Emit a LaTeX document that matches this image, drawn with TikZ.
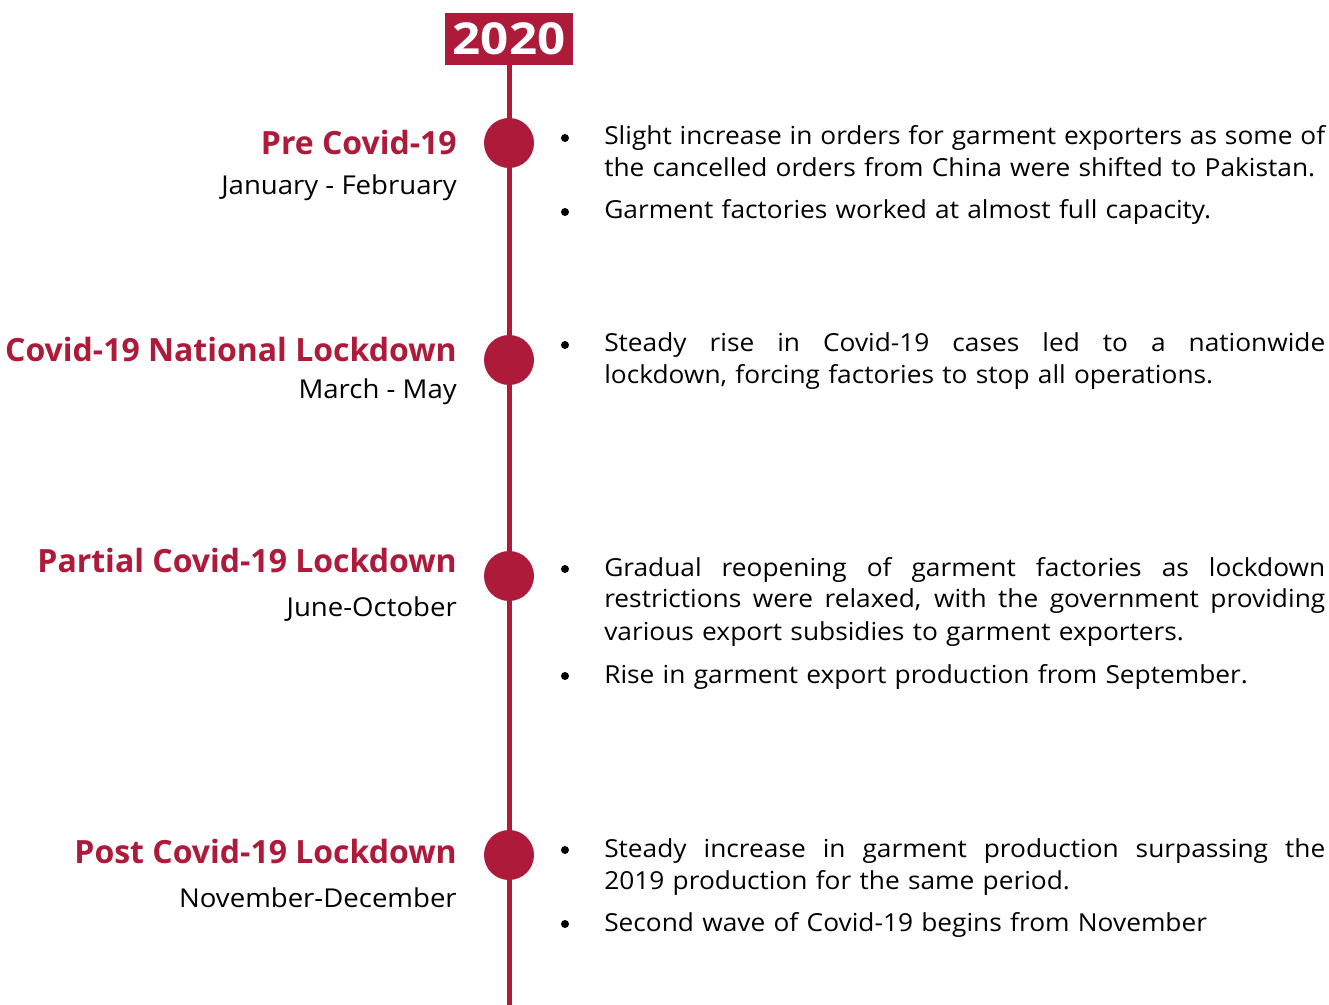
\documentclass[tikz,border=0pt]{standalone}
\usepackage{fontspec}
\setmainfont{Open Sans}
\newfontfamily\bodyfont[FakeStretch=1.06]{Open Sans}
\newfontfamily\yearfont[FakeStretch=1.12]{Open Sans}
\usetikzlibrary{positioning}
\definecolor{covidred}{RGB}{173,26,58}
\newlength{\pxu}\setlength{\pxu}{0.75pt}
\newcommand{\fullline}[1]{{\spaceskip=0.25em plus 1fil\relax\makebox[721\pxu][s]{#1}}}
\begin{document}
\begin{tikzpicture}[x=\pxu,y=-\pxu,
	year/.style={fill=covidred,text=white,inner sep=0,minimum width=128\pxu,minimum height=52\pxu,font=\yearfont\bfseries\fontsize{33}{33}\selectfont},
	stage/.style={circle,fill=covidred,inner sep=0,minimum size=50\pxu},
	phase/.style={anchor=base east,inner sep=0,text=covidred,font=\bfseries\fontsize{24}{30}\selectfont},
	period/.style={anchor=base east,inner sep=0,font=\bodyfont\fontsize{19.5}{24}\selectfont},
	note/.style={anchor=base west,inner sep=0,align=left,text width=730\pxu,font=\bodyfont\fontsize{18.6}{24}\selectfont},
	dot/.style={circle,fill=black,inner sep=0,minimum size=8\pxu}]
	\useasboundingbox (0,0) rectangle (1329,1005);
	
	\node[year] (y) at (509,39) {2020};
	\coordinate (tail) at (509,1005);
	\draw[covidred,line width=5\pxu] (y.south) -- (tail);
	
	% stages on the line
	\node[stage] (s1) at (509,143) {};
	\node[stage] (s2) at (509,360) {};
	\node[stage] (s3) at (509,576) {};
	\node[stage] (s4) at (509,855) {};
	
	\node[phase] (p1) at (457,155) {Pre Covid-19};
	\node[period] (m1) at (457,195) {January - February};
	\node[phase] (p2) at (457,362) {Covid-19 National Lockdown};
	\node[period] (m2) at (457,399) {March - May};
	\node[phase] (p3) at (457,573) {Partial Covid-19 Lockdown};
	\node[period] (m3) at (457,616) {June-October};
	\node[phase] (p4) at (457,863) {Post Covid-19 Lockdown};
	\node[period] (m4) at (457,907) {November-December};
	
	% bullet points
	\node[dot] (d1) at (565,138) {};
	\node[note] (n1) at (604,145) {\fullline{Slight increase in orders for garment exporters as some of}\\the cancelled orders from China were shifted to Pakistan.};
	\node[dot] (d2) at (565,212) {};
	\node[note] (n2) at (604,219) {Garment factories worked at almost full capacity.};
	\node[dot] (d3) at (565,345) {};
	\node[note] (n3) at (604,352) {\fullline{Steady rise in Covid-19 cases led to a nationwide}\\lockdown, forcing factories to stop all operations.};
	\node[dot] (d4) at (565,569) {};
	\node[note] (n4) at (604,576) {\fullline{Gradual reopening of garment factories as lockdown}\\\fullline{restrictions were relaxed, with the government providing}\\various export subsidies to garment exporters.};
	\node[dot] (d5) at (565,676) {};
	\node[note] (n5) at (604,683) {Rise in garment export production from September.};
	\node[dot] (d6) at (565,850) {};
	\node[note] (n6) at (604,857) {\fullline{Steady increase in garment production surpassing the}\\2019 production for the same period.};
	\node[dot] (d7) at (565,924) {};
	\node[note] (n7) at (604,931) {Second wave of Covid-19 begins from November};
\end{tikzpicture}
\end{document}
